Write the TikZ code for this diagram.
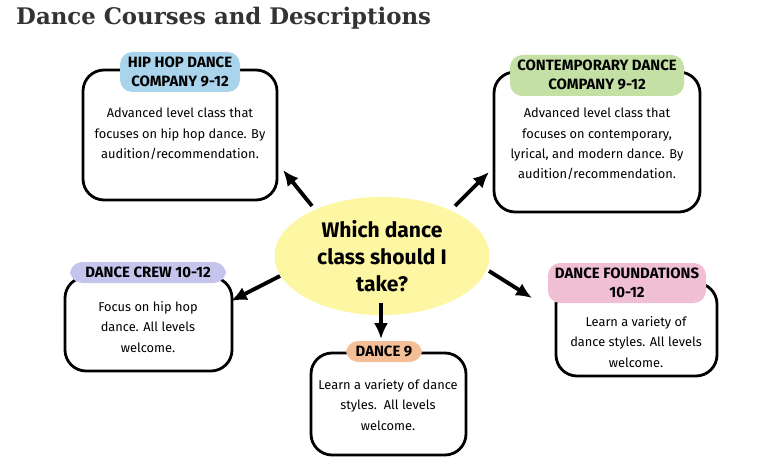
\documentclass[tikz,border=0pt]{standalone}
\usepackage{fontspec}
\usetikzlibrary{shapes.geometric,arrows.meta}
\setmainfont{Fira Sans}
\newfontfamily\slab{DejaVu Serif}
\definecolor{hiphopblue}{HTML}{A9D4EC}
\definecolor{contgreen}{HTML}{C5E0A5}
\definecolor{crewpurple}{HTML}{C5C4EC}
\definecolor{nineorange}{HTML}{F4BF96}
\definecolor{foundpink}{HTML}{F1BFD4}
\definecolor{askyellow}{HTML}{FDF6A3}
\definecolor{titlegray}{HTML}{333333}
\tikzset{
  course/.style={draw, line width=1.6pt, rounded corners=12pt, fill=white},
  tag/.style={rounded corners=7pt, font=\bfseries\fontsize{8.5}{10.5}\selectfont, align=center, inner sep=2pt},
  desc/.style={font=\fontsize{7.3}{11.5}\selectfont, align=center},
  pointer/.style={-{Latex[length=9pt,width=8pt]}, line width=2.2pt}
}
\begin{document}
\begin{tikzpicture}[x=0.02cm, y=-0.02cm]
  \useasboundingbox (0,0) rectangle (773,469);
  % titolo
  \node[anchor=west, text=titlegray, font=\slab\bfseries\fontsize{13}{16}\selectfont] (title) at (10,18) {Dance Courses and Descriptions};

  % riquadri dei corsi
  \draw[course] (83,70) rectangle (277,200);
  \fill[hiphopblue, rounded corners=7pt] (120,52) rectangle (240,92);
  \node[tag] (hiphop) at (180,72) {HIP HOP DANCE\\COMPANY 9-12};
  \node[desc] (hiphoptxt) at (180,134) {Advanced level class that\\focuses on hip hop dance. By\\audition/recommendation.};

  \draw[course] (494,72) rectangle (700,212);
  \fill[contgreen, rounded corners=7pt] (510,55) rectangle (684,96);
  \node[tag] (contemp) at (597,75) {CONTEMPORARY DANCE\\COMPANY 9-12};
  \node[desc] (contemptxt) at (597,144) {Advanced level class that\\focuses on contemporary,\\lyrical, and modern dance. By\\audition/recommendation.};

  \draw[course] (65,277) rectangle (232,371);
  \fill[crewpurple, rounded corners=7pt] (70,262) rectangle (226,283);
  \node[tag] (crew) at (148,272) {DANCE CREW 10-12};
  \node[desc] (crewtxt) at (148,327) {Focus on hip hop\\dance. All levels\\welcome.};

  \draw[course] (311,353) rectangle (466,455);
  \fill[nineorange, rounded corners=7pt] (346,341) rectangle (422,362);
  \node[tag] (nine) at (384,351) {DANCE 9};
  \node[desc] (ninetxt) at (388,405) {Learn a variety of dance\\styles.\ \ All levels\\welcome.};

  \draw[course] (556,283) rectangle (717,376);
  \fill[foundpink, rounded corners=7pt] (548,263) rectangle (706,303);
  \node[tag] (found) at (627,283) {DANCE FOUNDATIONS\\10-12};
  \node[desc] (foundtxt) at (636,342) {Learn a variety of\\dance styles. All levels\\welcome.};

  % domanda centrale
  \node[ellipse, fill=askyellow, minimum width=4.3cm, minimum height=1.85cm, align=center,
        font=\bfseries\fontsize{12}{15.5}\selectfont] (ask) at (382,256) {Which dance\\class should I\\take?};

  % frecce
  \coordinate (toHiphop) at (283,170);
  \coordinate (toContemp) at (489,172);
  \coordinate (toCrew) at (231,301);
  \coordinate (toNine) at (381,339);
  \coordinate (toFound) at (532,298);
  \draw[pointer] (312,206) -- (toHiphop);
  \draw[pointer] (455,206) -- (toContemp);
  \draw[pointer] (280,276) -- (toCrew);
  \draw[pointer] (381,303) -- (toNine);
  \draw[pointer] (489,271) -- (toFound);
\end{tikzpicture}
\end{document}
